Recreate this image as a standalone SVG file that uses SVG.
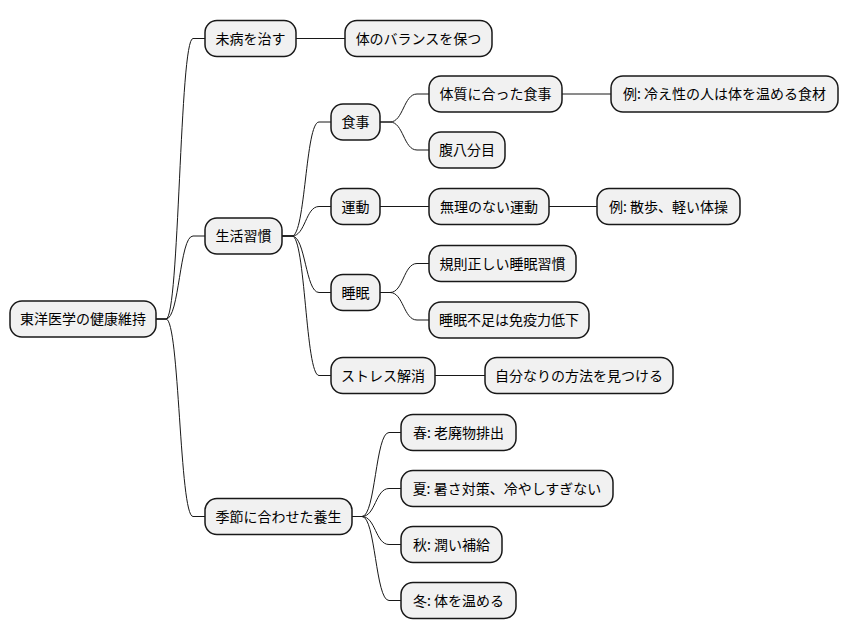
<svg xmlns="http://www.w3.org/2000/svg" width="848" height="640" viewBox="0 0 848 640">
<style>
.n rect{fill:#F1F1F1;stroke:#181818;stroke-width:1.5}
.n text{font-family:"Noto Sans CJK JP","Noto Sans",sans-serif;font-size:14px;fill:#000000;text-anchor:middle}
.c path{fill:none;stroke:#181818;stroke-width:1}
</style>
<rect width="848" height="640" fill="#FFFFFF"/>
<g class="c">
<path d="M156 319 L166 319 C179.5 319 179.5 38.5 193 38.5 L205 38.5"/>
<path d="M156 319 L166 319 C179.5 319 179.5 236 193 236 L205 236"/>
<path d="M156 319 L166 319 C179.5 319 179.5 516.5 193 516.5 L205 516.5"/>
<path d="M296 38.5 L345 38.5"/>
<path d="M282 236 L292 236 C305.5 236 305.5 122 319 122 L331 122"/>
<path d="M282 236 L292 236 C305.5 236 305.5 206.5 319 206.5 L331 206.5"/>
<path d="M282 236 L292 236 C305.5 236 305.5 292.5 319 292.5 L331 292.5"/>
<path d="M282 236 L292 236 C305.5 236 305.5 375.5 319 375.5 L331 375.5"/>
<path d="M380 122 L390 122 C403.5 122 403.5 94 417 94 L429 94"/>
<path d="M380 122 L390 122 C403.5 122 403.5 150 417 150 L429 150"/>
<path d="M562 94 L611 94"/>
<path d="M380 206.5 L429 206.5"/>
<path d="M549 206.5 L597 206.5"/>
<path d="M380 292.5 L390 292.5 C403.5 292.5 403.5 263.5 417 263.5 L429 263.5"/>
<path d="M380 292.5 L390 292.5 C403.5 292.5 403.5 320 417 320 L429 320"/>
<path d="M435 375.5 L485 375.5"/>
<path d="M352 516.5 L362 516.5 C375.5 516.5 375.5 432.5 389 432.5 L401 432.5"/>
<path d="M352 516.5 L362 516.5 C375.5 516.5 375.5 488.5 389 488.5 L401 488.5"/>
<path d="M352 516.5 L362 516.5 C375.5 516.5 375.5 544.5 389 544.5 L401 544.5"/>
<path d="M352 516.5 L362 516.5 C375.5 516.5 375.5 600.5 389 600.5 L401 600.5"/>
</g>
<g id="root" class="n"><rect x="10" y="301" width="146" height="36" rx="12"/><text x="83" y="324">東洋医学の健康維持</text></g>
<g id="mibyo" class="n"><rect x="205" y="20.5" width="91" height="36" rx="12"/><text x="250.5" y="43.5">未病を治す</text></g>
<g id="balance" class="n"><rect x="345" y="20.5" width="147" height="36" rx="12"/><text x="418.5" y="43.5">体のバランスを保つ</text></g>
<g id="seikatsu" class="n"><rect x="205" y="218" width="77" height="36" rx="12"/><text x="243.5" y="241">生活習慣</text></g>
<g id="shokuji" class="n"><rect x="331" y="104" width="49" height="36" rx="12"/><text x="355.5" y="127">食事</text></g>
<g id="taishitsu" class="n"><rect x="429" y="76" width="133" height="36" rx="12"/><text x="495.5" y="99">体質に合った食事</text></g>
<g id="hie" class="n"><rect x="611" y="76" width="227" height="36" rx="12"/><text x="724.5" y="99">例: 冷え性の人は体を温める食材</text></g>
<g id="harahachi" class="n"><rect x="429" y="132" width="76" height="36" rx="12"/><text x="467" y="155">腹八分目</text></g>
<g id="undo" class="n"><rect x="331" y="188.5" width="49" height="36" rx="12"/><text x="355.5" y="211.5">運動</text></g>
<g id="muri" class="n"><rect x="429" y="188.5" width="120" height="36" rx="12"/><text x="489" y="211.5">無理のない運動</text></g>
<g id="sanpo" class="n"><rect x="597" y="188.5" width="143" height="36" rx="12"/><text x="668.5" y="211.5">例: 散歩、軽い体操</text></g>
<g id="suimin" class="n"><rect x="331" y="274.5" width="49" height="36" rx="12"/><text x="355.5" y="297.5">睡眠</text></g>
<g id="kisoku" class="n"><rect x="429" y="245.5" width="147" height="36" rx="12"/><text x="502.5" y="268.5">規則正しい睡眠習慣</text></g>
<g id="busoku" class="n"><rect x="429" y="302" width="160" height="36" rx="12"/><text x="509" y="325">睡眠不足は免疫力低下</text></g>
<g id="stress" class="n"><rect x="331" y="357.5" width="104" height="36" rx="12"/><text x="383" y="380.5">ストレス解消</text></g>
<g id="jibun" class="n"><rect x="485" y="357.5" width="188" height="36" rx="12"/><text x="579" y="380.5">自分なりの方法を見つける</text></g>
<g id="kisetsu" class="n"><rect x="205" y="498.5" width="147" height="36" rx="12"/><text x="278.5" y="521.5">季節に合わせた養生</text></g>
<g id="haru" class="n"><rect x="401" y="414.5" width="115" height="36" rx="12"/><text x="458.5" y="437.5">春: 老廃物排出</text></g>
<g id="natsu" class="n"><rect x="401" y="470.5" width="212" height="36" rx="12"/><text x="507" y="493.5">夏: 暑さ対策、冷やしすぎない</text></g>
<g id="aki" class="n"><rect x="401" y="526.5" width="101" height="36" rx="12"/><text x="451.5" y="549.5">秋: 潤い補給</text></g>
<g id="fuyu" class="n"><rect x="401" y="582.5" width="115" height="36" rx="12"/><text x="458.5" y="605.5">冬: 体を温める</text></g>
</svg>
